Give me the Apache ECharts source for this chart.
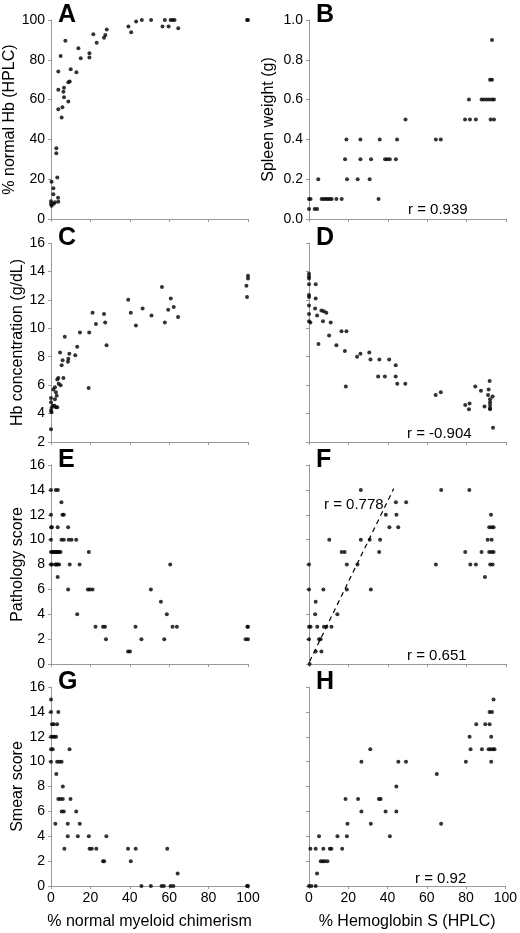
<!DOCTYPE html>
<html>
<head>
<meta charset="utf-8">
<script src="https://cdn.jsdelivr.net/npm/echarts@6/dist/echarts.min.js"></script>
<style>
  html, body { margin: 0; padding: 0; background: #fff; }
  #chart { width: 520px; height: 933px; }
</style>
</head>
<body>
<div id="chart"></div>
<script>
// x: % normal myeloid chimerism, y: % normal Hb (HPLC)
const panelA = [
  [99.5, 100], [100, 100], [39.3, 96.7], [40.7, 93.8], [43.2, 99.3], [46.1, 100], [50.8, 100],
  [56.6, 96.7], [57.8, 100], [59.7, 96.7], [60.7, 100], [61.7, 100], [62.7, 100], [64.6, 95.8],
  [21.5, 92.8], [23.2, 88.6], [26.9, 91.1], [27.6, 92.5], [28.3, 95.2],
  [19.5, 83.3], [19.5, 81.1], [15.1, 80.8], [13.9, 85.8], [12.9, 73.7], [10, 75.3], [9.5, 69.1],
  [8.8, 68.7], [8.8, 59], [7.3, 89.6], [6.6, 66], [6.3, 64], [6.6, 61.2], [5.8, 56.2], [5.4, 51],
  [4.9, 81.9], [3.7, 64.9], [3.7, 74.1], [3.7, 55.2], [2.7, 35.6], [2.7, 33.1], [3.2, 20.9],
  [3.6, 10.7], [3.7, 8.7], [0.3, 18.7], [1.2, 15.4], [1.2, 12.5], [0, 8.9], [0, 7.5], [0.3, 6.7],
  [2, 8.4], [1.4, 7.7]
];
// x: % Hemoglobin S, y: spleen weight (g)
const panelB = [
  [0, 0.1], [0.8, 0.1], [6.4, 0.1], [7.5, 0.1], [8.5, 0.1], [9.5, 0.1], [10.5, 0.1], [11.5, 0.1],
  [13.9, 0.1], [16.6, 0.1], [35.3, 0.1], [0, 0.05], [2.9, 0.05], [4.1, 0.05],
  [4.7, 0.2], [19.3, 0.2], [24.7, 0.2], [30.8, 0.2],
  [18.3, 0.3], [26.1, 0.3], [31.5, 0.3], [38.6, 0.3], [39.7, 0.3], [41, 0.3], [44.1, 0.3],
  [19, 0.4], [26.1, 0.4], [35.9, 0.4], [44.7, 0.4], [64.4, 0.4], [66.9, 0.4],
  [49, 0.5], [79.2, 0.5], [81.7, 0.5], [84.7, 0.5], [92.2, 0.5], [93.9, 0.5],
  [81.2, 0.6], [87.6, 0.6], [88.8, 0.6], [90.2, 0.6], [91.5, 0.6], [92.9, 0.6], [93.9, 0.6],
  [91.9, 0.7], [92.9, 0.7], [92.9, 0.9]
];
// x: % normal myeloid chimerism, y: Hb concentration (g/dL)
const panelC = [
  [0, 2.9], [0, 5.1], [0, 4.8], [0.3, 4.4], [0, 4.2], [0.8, 4.55], [0.3, 4.1],
  [1.2, 5.7], [2, 5.85], [2.5, 5.5], [2.9, 5.25], [1.7, 4.55], [2.5, 4.45], [3.2, 4.45], [2, 5.0],
  [3.2, 6.4], [3.7, 6.5], [3.9, 6.1], [4.9, 6.0], [4.6, 8.3], [5.4, 7.4], [5.9, 7.75], [6.3, 6.5],
  [7, 9.4], [8.6, 7.65], [8.8, 7.85], [9.3, 8.2], [12.3, 8.1], [13.3, 8.7], [14.7, 9.7],
  [19.4, 9.7], [19.1, 5.8], [21.1, 11.1], [22.8, 10.3], [26.9, 11.0], [27.5, 10.4], [28.2, 8.8],
  [39.2, 12.0], [40.5, 11.1], [43.1, 10.2], [46.5, 11.4], [51, 10.9], [56.3, 12.9], [57.8, 10.4],
  [59.5, 11.3], [60.8, 12.1], [62.3, 11.5], [64.5, 10.8],
  [99.2, 13.0], [99.5, 12.2], [100, 13.5], [100, 13.7]
];
// x: % Hemoglobin S, y: Hb concentration (g/dL)
const panelD = [
  [0, 13.84], [0, 13.65], [0, 13.5], [0, 13.1], [0, 12.35], [0, 12.2], [0, 11.6], [0, 11.0],
  [0, 10.5], [0.7, 10.4], [3.4, 13.1], [3.4, 12.1], [3.1, 11.4], [4.1, 10.9], [6.3, 11.25],
  [7.5, 11.2], [8.8, 11.1], [7.1, 10.5], [11, 10.4], [4.8, 8.9], [10.2, 9.5], [13.9, 8.8],
  [16.5, 9.8], [19, 9.8], [18.2, 8.4], [18.7, 5.9], [24.4, 8.0], [26.1, 8.2], [30.6, 8.3],
  [31.2, 7.8], [35.7, 7.8], [40.7, 7.8], [35.1, 6.6], [38.5, 6.6], [44, 7.4], [44, 6.6],
  [44.8, 6.1], [48.9, 6.1], [64.3, 5.3], [66.9, 5.5], [79.3, 4.6], [81.5, 4.7], [81.2, 4.3],
  [84.4, 5.9], [87.3, 5.6], [89.1, 4.5], [90.9, 5.3], [91.2, 5.7], [91.7, 6.3], [91.9, 5.0],
  [91.9, 4.8], [91.9, 4.6], [91.9, 4.4], [91.9, 4.3], [93.2, 5.2], [93.4, 3.0]
];
// x: % normal myeloid chimerism, y: pathology score
const panelE = [
  [0, 14], [2.4, 14], [3.5, 14], [5.3, 13], [0, 12], [5.8, 12], [6.5, 12],
  [0, 11], [0.5, 11], [3.4, 11], [8.7, 11], [0, 10], [5.3, 10], [6.5, 10], [9, 10], [10.4, 10], [12.8, 10],
  [0, 9], [0.6, 9], [1.2, 9], [1.8, 9], [2.4, 9], [3, 9], [3.6, 9], [4.2, 9], [4.8, 9], [19.2, 9],
  [0, 8], [0.5, 8], [2.2, 8], [2.7, 8], [3.4, 8], [4.1, 8], [9.5, 8], [14.5, 8], [60.5, 8],
  [3.4, 7], [8.7, 6], [18.7, 6], [19.7, 6], [21.1, 6], [50.7, 6], [55.8, 5], [13.3, 4], [58.8, 4],
  [22.6, 3], [26.4, 3], [27.4, 3], [42.9, 3], [61.7, 3], [63.9, 3], [99.7, 3], [100, 3],
  [27.9, 2], [45.9, 2], [57.5, 2], [98.8, 2], [100, 2], [39.1, 1], [40.1, 1]
];
// x: % Hemoglobin S, y: pathology score
const panelF = [
  [26.3, 14], [67.1, 14], [81.4, 14], [44.1, 13], [49.3, 13], [39, 12], [44.4, 12], [92.4, 12],
  [40.8, 11], [45.3, 11], [91.5, 11], [92.7, 11], [93.7, 11],
  [10.3, 10], [26.3, 10], [30.8, 10], [36.1, 10], [90.7, 10], [92.7, 10],
  [16.6, 9], [18.1, 9], [35.6, 9], [79.3, 9], [87.6, 9], [91.5, 9], [92.7, 9], [93.7, 9],
  [0, 8], [19.2, 8], [24.6, 8], [64.4, 8], [81.9, 8], [84.7, 8], [92, 8], [93.2, 8], [89.3, 7],
  [0, 6], [7.3, 6], [19.2, 6], [31.4, 6], [3.4, 5], [3.1, 4], [14.4, 4],
  [0, 3], [0.8, 3], [4.2, 3], [7.6, 3], [8.8, 3], [11.4, 3], [0, 2], [5.1, 2], [5.9, 2],
  [3.4, 1], [6.3, 1], [0.3, 0]
];
// dashed fit line in F (r = 0.778)
const fitF = [[0.3, 0.2], [43, 14.1]];
// x: % normal myeloid chimerism, y: smear score
const panelG = [
  [0, 15], [0, 14], [3.7, 14], [0.5, 13], [1.4, 13], [3.1, 13], [0, 12], [0.9, 12], [1.7, 12], [2.6, 12],
  [0, 11], [0.9, 11], [9.4, 11], [0, 10], [3.1, 10], [4.3, 10], [5.4, 10], [2.7, 9], [6, 8],
  [3.7, 7], [4.8, 7], [6, 7], [9.9, 7], [5.4, 6], [6.5, 6], [12.8, 6], [2.2, 5], [8.5, 5], [14.6, 5],
  [8.5, 4], [13.6, 4], [19.2, 4], [28.1, 4], [6.8, 3], [19.6, 3], [20.7, 3], [23, 3], [39.1, 3],
  [43, 3], [59, 3], [26.4, 2], [27, 2], [40.5, 2], [64.3, 1],
  [45.9, 0], [50.7, 0], [56.1, 0], [57.3, 0], [60.7, 0], [62.1, 0], [99.5, 0], [100, 0]
];
// x: % Hemoglobin S, y: smear score
const panelH = [
  [94, 15], [92, 14], [93.2, 14], [85.2, 13], [89.8, 13], [92, 13], [81.8, 12], [92.8, 12],
  [31.2, 11], [82.3, 11], [88.1, 11], [91.5, 11], [92.5, 11], [93.7, 11], [94.5, 11],
  [26.7, 10], [45.5, 10], [49.4, 10], [79.9, 10], [92.8, 10], [65.1, 9], [44.5, 8],
  [18.6, 7], [25, 7], [35.6, 7], [36.5, 7], [26.7, 6], [39, 6], [44.5, 6], [19.6, 5], [31.5, 5], [67.3, 5],
  [5.1, 4], [14.5, 4], [19.3, 4], [41.2, 4], [0.7, 3], [3.4, 3], [7.3, 3], [10.6, 3], [11.4, 3], [16.9, 3],
  [6, 2], [7, 2], [8, 2], [9.4, 2], [4.1, 1], [0, 0], [1.2, 0], [3.4, 0]
];

const panels = [panelA, panelB, panelC, panelD, panelE, panelF, panelG, panelH];
const letters = ['A', 'B', 'C', 'D', 'E', 'F', 'G', 'H'];
const yNames = ['% normal Hb (HPLC)', 'Spleen weight (g)', 'Hb concentration (g/dL)', '',
  'Pathology score', '', 'Smear score', ''];
const yRanges = [[0, 100, 20], [0, 1, 0.2], [2, 16, 2], [2, 16, 2], [0, 16, 2], [0, 16, 2], [0, 16, 2], [0, 16, 2]];
const xNames = ['% normal myeloid chimerism', '% Hemoglobin S (HPLC)'];
const rTexts = [
  { panel: 1, text: 'r = 0.939', x: 408, y: 211 },
  { panel: 3, text: 'r = -0.904', x: 407, y: 435 },
  { panel: 5, text: 'r = 0.651', x: 407, y: 657 },
  { panel: 5, text: 'r = 0.778', x: 324, y: 506 },
  { panel: 7, text: 'r = 0.92', x: 415, y: 880 }
];

const colLeft = [51, 309];
const rowTop = [20, 243, 465, 687];
const gw = 197, gh = 199;
const axisGray = '#999';
const font = 'Arial, "Liberation Sans", sans-serif';

let grid = [], xAxis = [], yAxis = [], series = [], graphic = [];

panels.forEach(function (data, i) {
  const col = i % 2, row = Math.floor(i / 2);
  const bottom = row === 3;
  grid.push({ left: colLeft[col], top: rowTop[row], width: gw, height: gh });
  xAxis.push({
    gridIndex: i, type: 'value', min: 0, max: 100, interval: 20,
    name: bottom ? xNames[col] : '', nameLocation: 'middle', nameGap: 28,
    nameTextStyle: { fontFamily: font, fontSize: 16, color: '#000' },
    axisLine: { lineStyle: { color: axisGray, width: 1 } },
    axisTick: { length: 3, lineStyle: { color: axisGray } },
    axisLabel: { show: bottom, fontFamily: font, fontSize: 14, color: '#000', margin: 5 },
    splitLine: { show: false }
  });
  const yr = yRanges[i];
  yAxis.push({
    gridIndex: i, type: 'value', min: yr[0], max: yr[1], interval: yr[2],
    name: yNames[i], nameLocation: 'middle', nameGap: col === 0 ? 25 : 32,
    nameTextStyle: { fontFamily: font, fontSize: 16, color: '#000' },
    axisLine: { show: true, lineStyle: { color: axisGray, width: 1 } },
    axisTick: { show: true, length: 3, lineStyle: { color: axisGray } },
    axisLabel: {
      show: col === 0 || i === 1, fontFamily: font, fontSize: 14, color: '#000', margin: 6,
      formatter: i === 1 ? function (v) { return v.toFixed(1); } : null
    },
    splitLine: { show: false }
  });
  series.push({
    type: 'scatter', xAxisIndex: i, yAxisIndex: i, data: data,
    symbol: 'circle', symbolSize: 4, itemStyle: { color: '#000' }, silent: true
  });
  graphic.push({
    type: 'text', left: colLeft[col] + 7, top: rowTop[row] - 17,
    style: { text: letters[i], font: 'bold 25px ' + font, fill: '#000' }
  });
});

series.push({
  type: 'line', xAxisIndex: 5, yAxisIndex: 5, data: fitF, symbol: 'none', silent: true,
  lineStyle: { color: '#000', width: 1.2, type: [5, 4] }
});

rTexts.forEach(function (r) {
  graphic.push({
    type: 'text', left: r.x, top: r.y - 9,
    style: { text: r.text, font: '15px ' + font, fill: '#000' }
  });
});

const chart = echarts.init(document.getElementById('chart'));
chart.setOption({
  animation: false,
  backgroundColor: '#fff',
  grid: grid, xAxis: xAxis, yAxis: yAxis, series: series, graphic: graphic
});
</script>
</body>
</html>
